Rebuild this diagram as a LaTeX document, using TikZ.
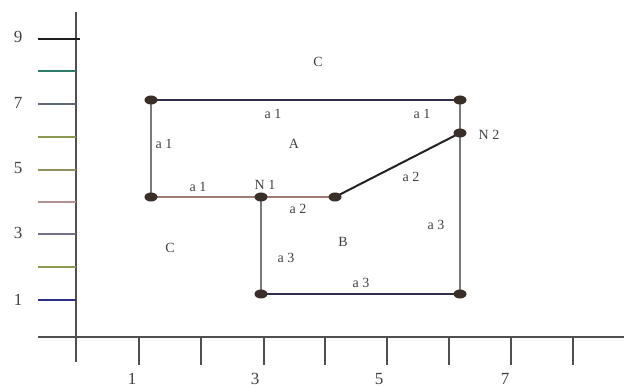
\documentclass[tikz,border=0pt]{standalone}
\usepackage{fontspec}
\setmainfont{Liberation Serif}
\usetikzlibrary{shapes.geometric, backgrounds}
\definecolor{axisgray}{HTML}{505050}
\definecolor{labelgray}{HTML}{404040}
\definecolor{dotbrown}{HTML}{3A2E28}
\definecolor{edgenavy}{HTML}{2E2E48}
\definecolor{edgegray}{HTML}{7A7A7A}
\definecolor{edgerose}{HTML}{A07C74}
\definecolor{edgedark}{HTML}{222222}
\definecolor{tickblack}{HTML}{1E1E1E}
\definecolor{tickteal}{HTML}{2E7D6A}
\definecolor{tickslate}{HTML}{606878}
\definecolor{tickolive}{HTML}{8A9A50}
\definecolor{tickkhaki}{HTML}{909060}
\definecolor{tickrose}{HTML}{B09090}
\definecolor{tickplum}{HTML}{707088}
\definecolor{ticknavy}{HTML}{303080}

\begin{document}
\begin{tikzpicture}[x=1pt, y=-1pt,
    dot/.style={ellipse, fill=dotbrown, minimum width=13pt, minimum height=9pt, inner sep=0pt},
    edge/.style={line width=2pt},
    lbl/.style={font=\fontsize{14}{14}\selectfont, text=labelgray, inner sep=0pt},
    axnum/.style={font=\fontsize{17}{17}\selectfont, text=labelgray, inner sep=0pt}]
\useasboundingbox (0,0) rectangle (624,387);

% Axes
\draw[axisgray, line width=2pt] (38,337) -- (624,337);
\draw[axisgray, line width=2pt] (76,12) -- (76,362);
\foreach \x in {139,201,264,325,387,449,511,573}{
    \draw[axisgray, line width=1.8pt] (\x,337) -- (\x,365);
}
\foreach \y/\c in {71/tickteal, 104/tickslate, 137/tickolive, 170/tickkhaki,
    202/tickrose, 234/tickplum, 267/tickolive, 300/ticknavy}{
    \draw[\c, line width=2pt] (38,\y) -- (76,\y);
}
\draw[tickblack, line width=2pt] (38,39) -- (80,39);
\foreach \v/\y in {9/37, 7/103, 5/168, 3/233, 1/300}{
    \node[axnum] at (18,\y) {\v};
}
\foreach \u/\x in {1/132, 3/255, 5/379, 7/505}{
    \node[axnum] at (\x,379) {\u};
}

% Nodes
\node[dot] (tl)   at (151,100) {};
\node[dot] (tr)   at (460,100) {};
\node[dot] (ntwo) at (460,133) {};
\node[dot] (bl)   at (151,197) {};
\node[dot] (none) at (261,197) {};
\node[dot] (mid)  at (335,197) {};
\node[dot] (lb)   at (261,294) {};
\node[dot] (rb)   at (460,294) {};

% Edges
\begin{scope}[on background layer]
    \draw[edge, edgenavy] (tl.center) -- (tr.center);
    \draw[edge, edgegray] (tl.center) -- (bl.center);
    \draw[edge, edgerose] (bl.center) -- (none.center) -- (mid.center);
    \draw[edge, edgedark] (mid.center) -- (ntwo.center);
    \draw[edge, edgegray] (tr.center) -- (ntwo.center) -- (rb.center);
    \draw[edge, edgegray] (none.center) -- (lb.center);
    \draw[edge, edgenavy] (lb.center) -- (rb.center);
\end{scope}

% Labels
\node[lbl] at (318,62)  {C};
\node[lbl] at (273,114) {a 1};
\node[lbl] at (422,114) {a 1};
\node[lbl] at (164,144) {a 1};
\node[lbl] at (294,144) {A};
\node[lbl] at (489,135) {N 2};
\node[lbl] at (198,187) {a 1};
\node[lbl] at (265,185) {N 1};
\node[lbl] at (298,209) {a 2};
\node[lbl] at (411,177) {a 2};
\node[lbl] at (436,225) {a 3};
\node[lbl] at (343,242) {B};
\node[lbl] at (170,248) {C};
\node[lbl] at (286,258) {a 3};
\node[lbl] at (361,283) {a 3};

\end{tikzpicture}
\end{document}
